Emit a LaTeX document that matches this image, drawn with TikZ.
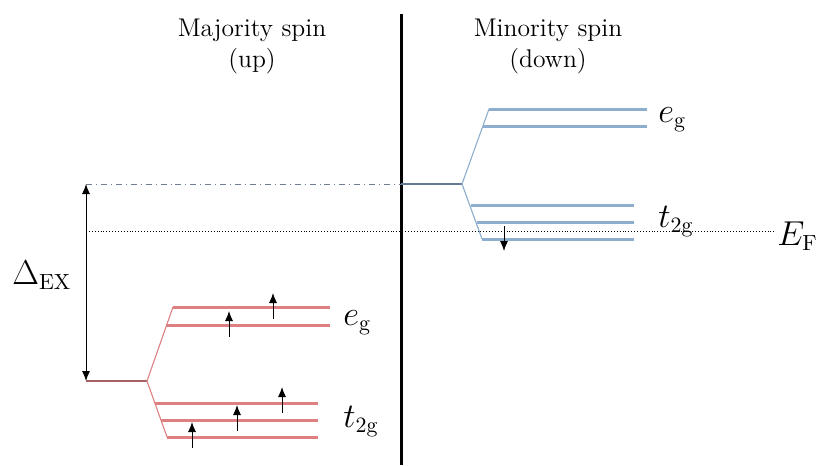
\documentclass[tikz,border=0pt]{standalone}
\usetikzlibrary{arrows.meta,positioning}
\definecolor{upred}{RGB}{222,128,130}
\definecolor{downblue}{RGB}{142,174,208}
\definecolor{refgray}{RGB}{110,125,145}
\tikzstyle{level}=[line width=1.5pt]
\tikzstyle{branch}=[line width=0.55pt]
\tikzstyle{spin}=[line width=0.45pt,-{Latex[length=5pt,width=4pt]}]
\tikzstyle{lvllabel}=[font=\fontsize{16}{19}\selectfont,inner sep=0pt,anchor=base west]
\tikzstyle{spintitle}=[font=\fontsize{12.8}{15.5}\selectfont,align=center]

\begin{document}
\begin{tikzpicture}[x=0.5pt,y=-0.5pt]
\useasboundingbox (0,0) rectangle (817,465);

% titles
\node [spintitle] (maj) at (252,46) {Majority spin\\(up)};
\node [spintitle] (min) at (548,46) {Minority spin\\(down)};
\draw [line width=1.5pt] (401,14) coordinate (ctop) -- (401,465) coordinate (cbot);

% reference levels
\coordinate (dtop) at (86,184);
\coordinate (dbot) at (86,381);
\coordinate (cmid) at (401,184);
\coordinate (usplit) at (147,381);
\coordinate (dsplit) at (462,184);
\draw [refgray,line width=0.45pt,dash dot] (dtop) -- (cmid);
\draw [line width=0.45pt,densely dotted] (86,231) coordinate (fl) -- (775,231) coordinate (fr);
\draw [line width=0.45pt,{Latex[length=5pt,width=4pt]}-{Latex[length=5pt,width=4pt]}] (dtop) -- (dbot);
\node [lvllabel] (dex) at (12,284) {$\Delta_{\mathrm{EX}}$};
\node [lvllabel] (ef) at (777,245) {$E_{\mathrm{F}}$};

% majority spin
\coordinate (ue1) at (173,307); \coordinate (ue1r) at (330,307);
\coordinate (ue2) at (166,325); \coordinate (ue2r) at (330,325);
\coordinate (ut1) at (155,403); \coordinate (ut1r) at (318,403);
\coordinate (ut2) at (161,420); \coordinate (ut2r) at (318,420);
\coordinate (ut3) at (167,437); \coordinate (ut3r) at (318,437);
\draw [branch,upred!75!black] (dbot) -- (usplit);
\draw [branch,upred] (usplit) -- (ue1);
\draw [branch,upred] (usplit) -- (ut3);
\foreach \l in {ue1,ue2,ut1,ut2,ut3}
    \draw [level,upred] (\l) -- (\l r);
\draw [spin] (273,319) -- ++(0,-26);
\draw [spin] (229,337) -- ++(0,-26);
\draw [spin] (282,413) -- ++(0,-26);
\draw [spin] (237,431) -- ++(0,-26);
\draw [spin] (192,448) -- ++(0,-26);
\node [lvllabel] (ueg) at (343,325) {$e_{\mathrm{g}}$};
\node [lvllabel] (ut2g) at (343,427) {$t_{2\mathrm{g}}$};

% minority spin
\coordinate (de1) at (489,109); \coordinate (de1r) at (647,109);
\coordinate (de2) at (483,126); \coordinate (de2r) at (647,126);
\coordinate (dt1) at (471,205); \coordinate (dt1r) at (634,205);
\coordinate (dt2) at (477,222); \coordinate (dt2r) at (634,222);
\coordinate (dt3) at (482,239); \coordinate (dt3r) at (634,239);
\draw [branch,downblue!70!black] (cmid) -- (dsplit);
\draw [branch,downblue] (dsplit) -- (de1);
\draw [branch,downblue] (dsplit) -- (dt3);
\foreach \l in {de1,de2,dt1,dt2,dt3}
    \draw [level,downblue] (\l) -- (\l r);
\draw [spin] (504,226) -- ++(0,25);
\node [lvllabel] (deg) at (658,122) {$e_{\mathrm{g}}$};
\node [lvllabel] (dt2g) at (658,227) {$t_{2\mathrm{g}}$};
\end{tikzpicture}
\end{document}
